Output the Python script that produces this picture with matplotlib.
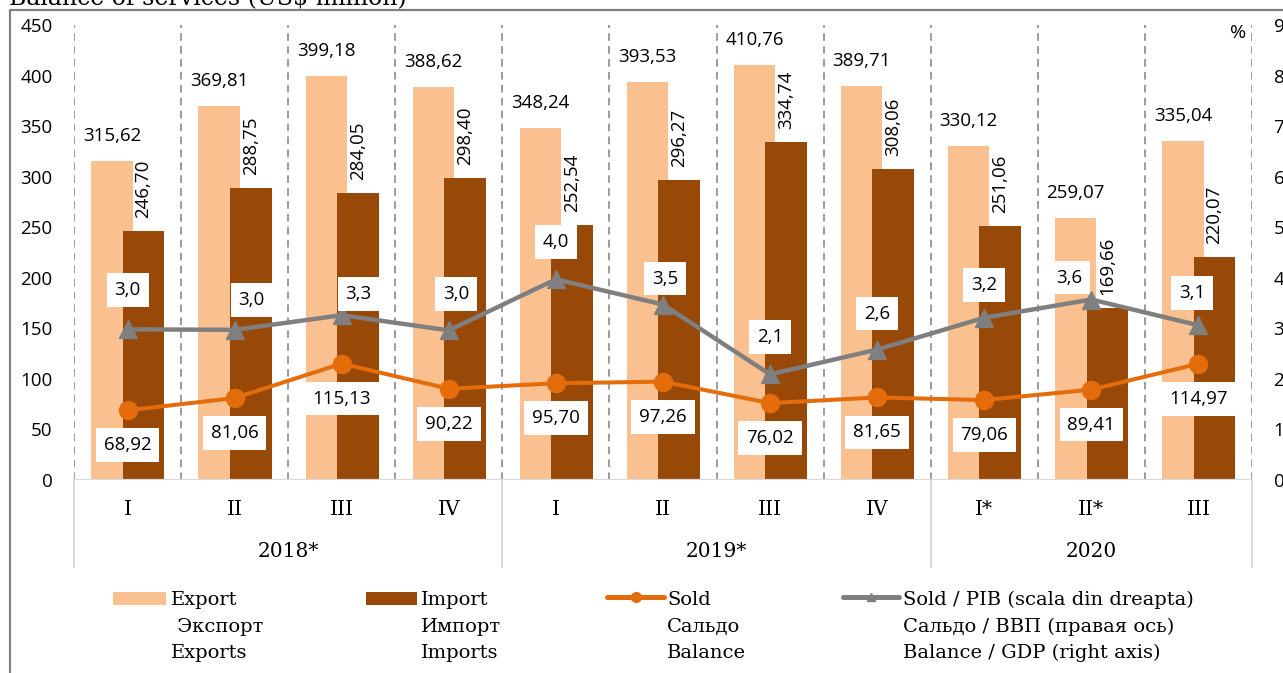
import numpy as np
import matplotlib
matplotlib.use("Agg")
import matplotlib.pyplot as plt
from matplotlib.patches import Rectangle

plt.rcParams['lines.scale_dashes'] = False

# ---------------- data ----------------
quarters = ['I', 'II', 'III', 'IV', 'I', 'II', 'III', 'IV', 'I*', 'II*', 'III']
years = ['2018*', '2019*', '2020']
year_spans = [(0, 3), (4, 7), (8, 10)]
export = [315.62, 369.81, 399.18, 388.62, 348.24, 393.53, 410.76, 389.71, 330.12, 259.07, 335.04]
imports = [246.70, 288.75, 284.05, 298.40, 252.54, 296.27, 334.74, 308.06, 251.06, 169.66, 220.07]
sold = [68.92, 81.06, 115.13, 90.22, 95.70, 97.26, 76.02, 81.65, 79.06, 89.41, 114.97]
sold_pib = [2.98, 2.97, 3.26, 2.96, 3.97, 3.47, 2.09, 2.58, 3.21, 3.57, 3.06]
left_ticks = list(range(0, 451, 50))
right_ticks = list(range(0, 10))

# label offsets (pixels) for the Sold/PIB labels
pib_offsets = [(0, 39), (17, 30), (17, 21), (7, 36), (0, 37), (2, 26),
               (0, 37), (0, 36), (0, 33), (-22, 22), (-6, 32)]

C_EXP = '#FAC090'
C_IMP = '#984807'
C_SOLD = '#E46C0A'
C_PIB = '#7F7F7F'
SANS = 'Open Sans'
SERIF = 'DejaVu Serif'

W, H = 1283, 673
fig = plt.figure(figsize=(W / 100, H / 100), dpi=100)
fig.patch.set_facecolor('white')

L, R, B, T = 74, 1252, 480, 25
ax = fig.add_axes([L / W, (H - B) / H, (R - L) / W, (B - T) / H])
ax.set_xlim(-0.5, 10.5)
ax.set_ylim(0, 450)
for s in ax.spines.values():
    s.set_visible(False)

x = np.arange(len(quarters))

# dashed vertical gridlines between categories
ax.vlines(np.arange(len(quarters) + 1) - 0.5, 0, 450, colors='#808080',
          linestyles=[(0, (5.5, 3.8))], linewidth=1.1, zorder=1)

# bars
ax.bar(x - 0.145, export, 0.385, color=C_EXP, zorder=2)
ax.bar(x + 0.15, imports, 0.39, color=C_IMP, zorder=2)

ax.axhline(0, color='#D9D9D9', lw=1.6, zorder=3)

fmt = lambda v, d: f'{v:.{d}f}'.replace('.', ',')

for xi, v in zip(x, export):
    ax.annotate(fmt(v, 2), (xi - 0.145, v), xytext=(0, 25), textcoords='offset pixels',
                ha='center', va='center', fontsize=13.5, family=SANS, zorder=6)
for xi, v in zip(x, imports):
    ax.annotate(fmt(v, 2), (xi + 0.15, v), xytext=(0, 13), textcoords='offset pixels',
                ha='center', va='bottom', rotation=90, fontsize=13.5, family=SANS, zorder=6)

# Sold line
ax.plot(x, sold, color=C_SOLD, lw=2.9, marker='o', ms=13, zorder=4)
for xi, v in zip(x, sold):
    ax.annotate(fmt(v, 2), (xi, v), xytext=(0, -35), textcoords='offset pixels',
                ha='center', va='center', fontsize=13.5, family=SANS, zorder=7,
                bbox=dict(boxstyle='square,pad=0.42', fc='white', ec='none'))

ax.set_yticks(left_ticks)
ax.set_yticklabels([str(t) for t in left_ticks], fontsize=13.5, family=SANS)
ax.tick_params(axis='y', length=0, pad=15.5)
ax.set_xticks([])

# category labels
xt = ax.get_xaxis_transform()
for xi, q in zip(x, quarters):
    ax.text(xi, (B - 515) / (B - T), q, transform=xt, ha='center', va='baseline',
            fontsize=14.5, family=SERIF)
for (a, b), yl in zip(year_spans, years):
    ax.text((a + b) / 2, (B - 557) / (B - T), yl, transform=xt, ha='center', va='baseline',
            fontsize=14.5, family=SERIF)
for sep in [-0.5, 3.5, 7.5, 10.5]:
    ax.plot([sep, sep], [0, (B - 567) / (B - T)], transform=xt, color='#D9D9D9',
            lw=1.4, clip_on=False, zorder=3)

# right axis: Sold / PIB
ax2 = ax.twinx()
ax2.set_ylim(0, 9)
for s in ax2.spines.values():
    s.set_visible(False)
ax2.plot(x, sold_pib, color=C_PIB, lw=3.2, marker='^', ms=13, zorder=4)
for xi, v, (dx, dy) in zip(x, sold_pib, pib_offsets):
    ax2.annotate(fmt(v, 1), (xi, v), xytext=(dx, dy), textcoords='offset pixels',
                 ha='center', va='center', fontsize=13.5, family=SANS, zorder=7,
                 bbox=dict(boxstyle='square,pad=0.42', fc='white', ec='none'))
ax2.set_yticks(right_ticks)
ax2.set_yticklabels([str(t) for t in right_ticks], fontsize=13.5, family=SANS)
ax2.tick_params(axis='y', length=0, pad=15.5)

# overlay in pixel coordinates
lax = fig.add_axes([0, 0, 1, 1], zorder=10)
lax.set_xlim(0, W)
lax.set_ylim(H, 0)
lax.axis('off')

lax.plot([10, 10, W + 5], [H + 5, 10, 10], color='#808080', lw=1.6, solid_capstyle='butt')
lax.text(9, 5, 'Balance of services (US$ million)', va='baseline', ha='left',
         fontsize=17, family=SERIF)
lax.text(1238, 33, '%', ha='center', va='center', fontsize=14, family=SANS)

# legend
lax.add_patch(Rectangle((113, 592), 53, 13, color=C_EXP, lw=0))
lax.add_patch(Rectangle((366, 592), 51, 13, color=C_IMP, lw=0))
lax.plot([607, 664], [597, 597], color=C_SOLD, lw=3.6, solid_capstyle='round')
lax.plot([635.5], [597], 'o', color=C_SOLD, ms=7)
lax.plot([843, 899], [597, 597], color=C_PIB, lw=3.6, solid_capstyle='round')
lax.plot([871], [597], '^', color=C_PIB, ms=6)

legend_cols = [
    (171, ['Export', ' Экспорт', 'Exports']),
    (421, ['Import', 'Импорт', 'Imports']),
    (667, ['Sold', 'Сальдо', 'Balance']),
    (903, ['Sold / PIB (scala din dreapta)', 'Сальдо / ВВП (правая ось)',
           'Balance / GDP (right axis)']),
]
for lx, lines in legend_cols:
    for yb, txt in zip([605, 632, 658], lines):
        lax.text(lx, yb, txt, ha='left', va='baseline', fontsize=14, family=SERIF)

fig.savefig('out.png', dpi=100, facecolor='white')
